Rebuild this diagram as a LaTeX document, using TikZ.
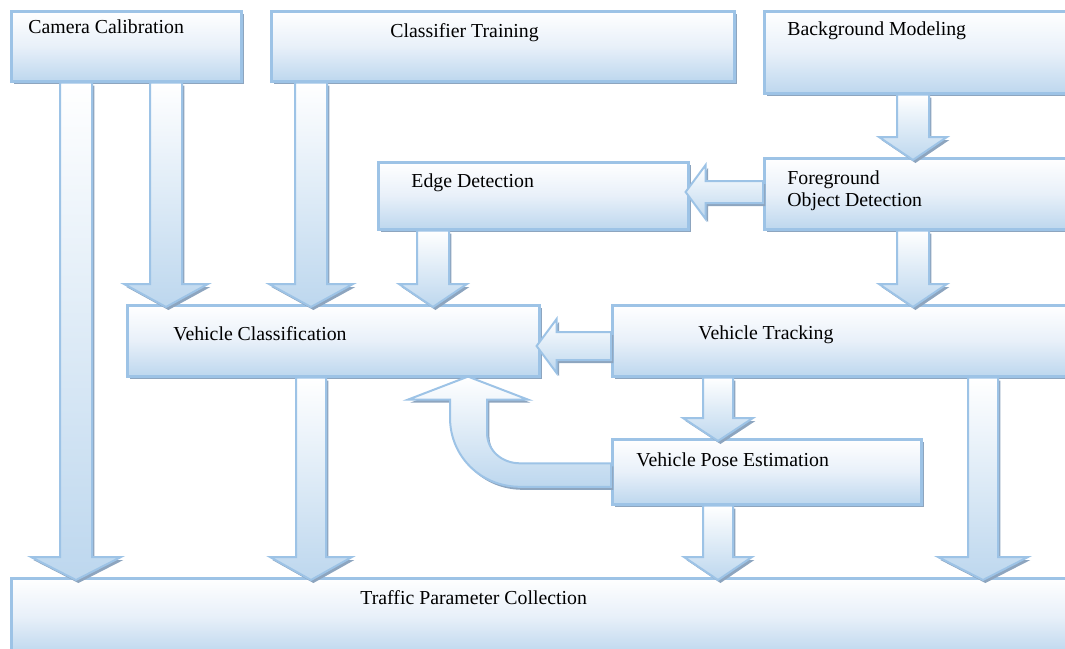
\documentclass[tikz,border=0pt]{standalone}
\usepackage{fontspec}
\setmainfont{Liberation Serif}
\usepackage{tikz}
\usetikzlibrary{calc,shadows}
\definecolor{boxblue}{HTML}{BDD7EE}
\definecolor{boxmid}{HTML}{E8F0F9}
\definecolor{edgeblue}{HTML}{9DC3E6}
\definecolor{shadowblue}{HTML}{8DA5BF}
% block arrows: #1 position, #2 from, #3 to, #4 shaft half width, #5 head half width
\newcommand{\blockdown}[5]{%
\path (#1,0 |- #2.south) coordinate (bs) (#1,0 |- #3.north) coordinate (bt);
\draw[blk] ($(bs)+(-#4,0)$) -- ($(bt)+(-#4,-20)$) -- ($(bt)+(-#5,-20)$) -- ($(bt)+(0,3)$)
  -- ($(bt)+(#5,-20)$) -- ($(bt)+(#4,-20)$) -- ($(bs)+(#4,0)$) -- cycle;}
\newcommand{\blockleft}[5]{%
\path (#2.west |- 0,#1) coordinate (bs) (#3.east |- 0,#1) coordinate (bt);
\draw[blk] ($(bs)+(0,-#4)$) -- ($(bt)+(16,-#4)$) -- ($(bt)+(16,-#5)$) -- ($(bt)+(-4,0)$)
  -- ($(bt)+(16,#5)$) -- ($(bt)+(16,#4)$) -- ($(bs)+(0,#4)$) -- cycle;}

\begin{document}
\begin{tikzpicture}
[x=0.5pt,y=-0.5pt,
box/.style={draw=edgeblue,line width=1.3pt,top color=white,bottom color=boxblue,middle color=boxmid,
  anchor=north west,inner sep=0pt,
  drop shadow={shadow xshift=1.5pt,shadow yshift=-1.5pt,fill=shadowblue,opacity=1}},
blk/.style={draw=edgeblue,line width=1pt,top color=white,bottom color=boxblue,
  drop shadow={shadow xshift=1.2pt,shadow yshift=-1.5pt,fill=shadowblue,opacity=1}},
lbl/.style={anchor=base west,inner sep=0pt,font=\fontsize{9.9}{12}\selectfont}]
\useasboundingbox (0,0) rectangle (1065,648);
\clip (0,0) rectangle (1065,648);
% boxes
\node[box,minimum width=115pt,minimum height=35pt] (cam) at (10,10) {};
\node[box,minimum width=231.5pt,minimum height=35pt] (cls) at (270,10) {};
\node[box,minimum width=170pt,minimum height=41pt] (bg) at (763,10) {};
\node[box,minimum width=155pt,minimum height=33.5pt] (edge) at (377,161) {};
\node[box,minimum width=170pt,minimum height=35.5pt] (fg) at (763,157) {};
\node[box,minimum width=206pt,minimum height=35.5pt] (vc) at (126,304) {};
\node[box,minimum width=240pt,minimum height=35.5pt] (trk) at (611,304) {};
\node[box,minimum width=154.5pt,minimum height=32.5pt] (pose) at (611,438) {};
\node[box,minimum width=560pt,minimum height=38pt] (trf) at (10,577) {};
% labels
\node[lbl] (camtext) at (28,33) {Camera Calibration};
\node[lbl] (clstext) at (390,37) {Classifier Training};
\node[lbl] (bgtext) at (787,35) {Background Modeling};
\node[lbl] (edgetext) at (411,187) {Edge Detection};
\node[lbl] (fgtext) at (787,184) {Foreground};
\node[lbl] (fgtext2) at (787,206) {Object Detection};
\node[lbl] (vctext) at (173,340) {Vehicle Classification};
\node[lbl] (trktext) at (698,339) {Vehicle Tracking};
\node[lbl] (posetext) at (636,466) {Vehicle Pose Estimation};
\node[lbl] (trftext) at (360,604) {Traffic Parameter Collection};
% arrows
\blockdown{76}{cam}{trf}{16}{45}
\blockdown{166}{cam}{vc}{16}{42}
\blockdown{311}{cls}{vc}{16}{42}
\blockdown{913}{bg}{fg}{16}{34}
\blockleft{192}{fg}{edge}{11}{27}
\blockdown{433}{edge}{vc}{16}{34}
\blockdown{913}{fg}{trk}{16}{34}
\blockleft{346}{trk}{vc}{14}{27}
\blockdown{718}{trk}{pose}{15}{35}
\blockdown{311}{vc}{trf}{15}{41}
\blockdown{718}{pose}{trf}{15}{34}
\blockdown{983}{trk}{trf}{15}{45}
% pose back to classification
\path (pose.west) ++(0,3) coordinate (cs) (468,0 |- vc.south) coordinate (ct);
\draw[blk] ($(cs)+(0,12)$) -- ($(cs)+(-91,12)$)
  .. controls ($(cs)+(-130,12)$) and ($(ct)+(-18,79)$) .. ($(ct)+(-18,40)$)
  -- ($(ct)+(-18,22)$) -- ($(ct)+(-60,22)$) -- ($(ct)+(0,-1)$) -- ($(ct)+(60,22)$)
  -- ($(ct)+(19,22)$) -- ($(ct)+(19,55)$)
  .. controls ($(ct)+(19,73)$) and ($(cs)+(-109,-11.5)$) .. ($(cs)+(-91,-11.5)$)
  -- ($(cs)+(0,-11.5)$) -- cycle;
\end{tikzpicture}
\end{document}
